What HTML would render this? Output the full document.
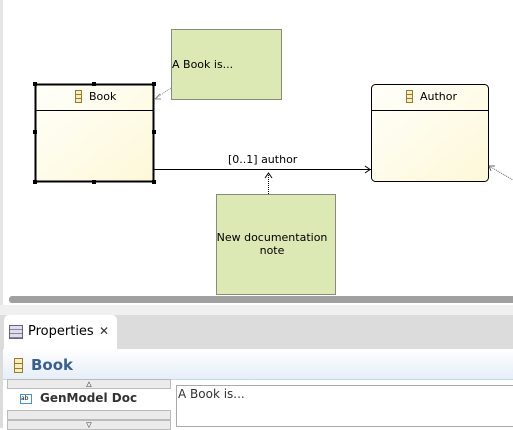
<!DOCTYPE html>
<html><head><style>
body{margin:0;width:513px;height:428px;overflow:hidden;background:#fff;font-family:"DejaVu Sans","Liberation Sans",sans-serif;position:relative}
.a{position:absolute}
</style></head><body>
<div class="a" style="left:0;top:0;width:3px;height:305px;background:#e6e6e6"></div>
<div class="a" style="left:0;top:305px;width:513px;height:10px;background:#f0f0f0"></div>
<div class="a" style="left:3px;top:293px;width:510px;height:12px;background:#fff"></div>
<div class="a" style="left:9px;top:296px;width:504px;height:7px;background:#a0a0a0;border-radius:3px 0 0 3px"></div>
<svg class="a" style="left:0;top:0" width="513" height="295">
<defs><linearGradient id="g" x1="0" y1="0" x2="1" y2="1"><stop offset="0" stop-color="#fffffa"/><stop offset="1" stop-color="#fdf8d8"/></linearGradient></defs>
<rect x="171.5" y="29.5" width="110" height="70" fill="#dce9b5" stroke="#8a8a7a"/>
<text x="172" y="68" font-size="11" font-family="DejaVu Sans">A Book is...</text>
<line x1="171" y1="88" x2="156" y2="98" stroke="#888" stroke-dasharray="1,1"/>
<path d="M155 99 l5 -5 M155 99 l6 0" stroke="#888" fill="none"/>
<rect x="35.5" y="84.5" width="118" height="97" fill="url(#g)" stroke="#000" stroke-width="2"/>
<line x1="36" y1="110.5" x2="153" y2="110.5" stroke="#000"/>
<g fill="#000"><rect x="33" y="82" width="4" height="4"/><rect x="92" y="82" width="4" height="4"/><rect x="152" y="82" width="4" height="4"/><rect x="33" y="130" width="4" height="4"/><rect x="152" y="130" width="4" height="4"/><rect x="33" y="180" width="4" height="4"/><rect x="92" y="180" width="4" height="4"/><rect x="152" y="180" width="4" height="4"/></g>
<g stroke="#9a7a30" fill="#f6eec0"><rect x="75.5" y="90.5" width="6" height="12"/><line x1="75.5" y1="94.5" x2="81.5" y2="94.5"/><line x1="75.5" y1="98.5" x2="81.5" y2="98.5"/></g>
<text x="89" y="100" font-size="11">Book</text>
<rect x="371.5" y="84.5" width="117" height="97" rx="4" fill="url(#g)" stroke="#000"/>
<line x1="372" y1="110.5" x2="488" y2="110.5" stroke="#000"/>
<g stroke="#9a7a30" fill="#f6eec0"><rect x="406.5" y="90.5" width="6" height="12"/><line x1="406.5" y1="94.5" x2="412.5" y2="94.5"/><line x1="406.5" y1="98.5" x2="412.5" y2="98.5"/></g>
<text x="420" y="100" font-size="11">Author</text>
<line x1="154" y1="169.5" x2="371" y2="169.5" stroke="#000"/>
<path d="M365 166 l5 3.5 l-5 3.5" stroke="#000" fill="none"/>
<text x="228" y="163" font-size="11">[0..1] author</text>
<line x1="268.5" y1="194" x2="268.5" y2="172" stroke="#000" stroke-dasharray="1,1"/>
<path d="M265 178 l3.5 -5 l3.5 5" stroke="#000" fill="none"/>
<line x1="489" y1="166" x2="513" y2="180" stroke="#666" stroke-dasharray="1,1"/>
<path d="M489 166 l6 0 M489 166 l2 5" stroke="#666" fill="none"/>
<rect x="216.5" y="194.5" width="119" height="100" fill="#dce9b5" stroke="#8a8a7a"/>
<text x="272" y="241" font-size="11" text-anchor="middle">New documentation</text>
<text x="272" y="254" font-size="11" text-anchor="middle">note</text>
</svg>
<div class="a" style="left:0;top:315px;width:513px;height:113px;background:#dcdcdc"></div>
<div class="a" style="left:4px;top:315px;width:113px;height:36px;background:#fff;border-radius:5px 5px 0 0"></div>
<div class="a" style="left:9px;top:325px;width:12px;height:12px;border:1px solid #667;background:repeating-linear-gradient(#dde 0 3px,#889 3px 4px)"></div>
<div class="a" style="left:28px;top:324px;font-size:13px;color:#000">Properties</div>
<div class="a" style="left:99px;top:324px;font-size:12px;color:#333">✕</div>
<div class="a" style="left:3px;top:349px;width:510px;height:79px;background:#fff"></div>
<div class="a" style="left:3px;top:349px;width:510px;height:30px;background:linear-gradient(#fff,#e6eef8);border-bottom:1px solid #c8d8ec"></div>
<svg class="a" style="left:14px;top:358px" width="10" height="16"><g stroke="#9a7a30" fill="#f6eec0"><rect x="0.5" y="0.5" width="8" height="14"/><line x1="0.5" y1="5.5" x2="8.5" y2="5.5"/><line x1="0.5" y1="10.5" x2="8.5" y2="10.5"/></g></svg>
<div class="a" style="left:31px;top:356px;font-size:15px;font-weight:bold;color:#3a5f8a">Book</div>
<div class="a" style="left:7px;top:379px;width:162px;height:8px;background:#ebebeb;border:1px solid #bbb;font-size:7px;text-align:center;line-height:8px">△</div>
<div class="a" style="left:20px;top:394px;width:10px;height:8px;border:1px solid #4a90d0;font-size:6px;line-height:8px">ab</div>
<div class="a" style="left:40px;top:391px;font-size:12px;font-weight:bold;color:#333">GenModel Doc</div>
<div class="a" style="left:7px;top:410px;width:162px;height:8px;background:#ebebeb;border:1px solid #bbb"></div>
<div class="a" style="left:7px;top:420px;width:162px;height:8px;background:#ebebeb;border:1px solid #bbb;font-size:7px;text-align:center;line-height:8px">▽</div>
<div class="a" style="left:176px;top:385px;width:337px;height:40px;border:1px solid #aaa;background:#fff"></div>
<div class="a" style="left:178px;top:387px;font-size:12px;color:#333">A Book is...</div>
</body></html>
